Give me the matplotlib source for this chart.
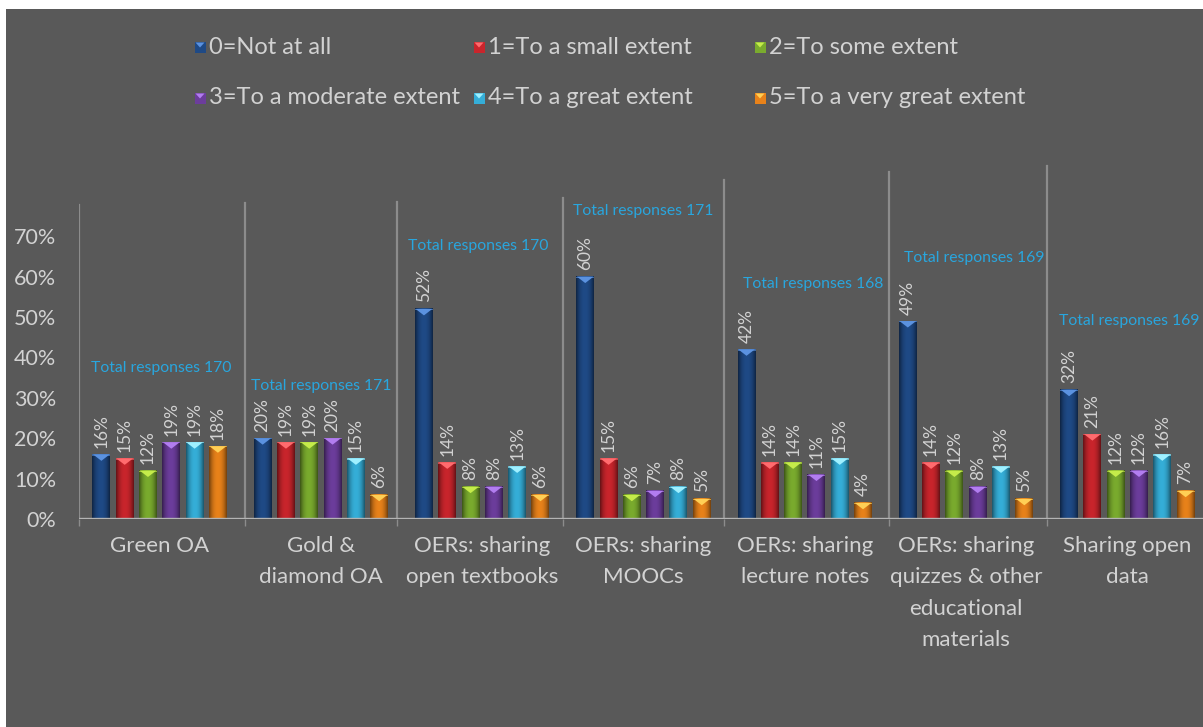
import numpy as np
import matplotlib.pyplot as plt
from matplotlib.patches import Rectangle, Polygon
from matplotlib.colors import to_rgb

plt.rcParams['font.family'] = ['Lato', 'DejaVu Sans']

categories = ['Green OA', 'Gold &\ndiamond OA', 'OERs: sharing\nopen textbooks',
              'OERs: sharing\nMOOCs', 'OERs: sharing\nlecture notes',
              'OERs: sharing\nquizzes & other\neducational\nmaterials',
              'Sharing open\ndata']
series = ['0=Not at all', '1=To a small extent', '2=To some extent',
          '3=To a moderate extent', '4=To a great extent', '5=To a very great extent']

not_at_all = [16, 20, 52, 60, 42, 49, 32]
small_extent = [15, 19, 14, 15, 14, 14, 21]
some_extent = [12, 19, 8, 6, 14, 12, 12]
moderate_extent = [19, 20, 8, 7, 11, 8, 12]
great_extent = [19, 15, 13, 8, 15, 13, 16]
very_great_extent = [18, 6, 6, 5, 4, 5, 7]
total_responses = [170, 171, 170, 171, 168, 169, 169]

values = [not_at_all, small_extent, some_extent, moderate_extent, great_extent, very_great_extent]

# where the "Total responses" notes sit (height in %, shift in category units)
note_y = [37.4, 32.9, 67.6, 76.2, 58.2, 64.6, 49.0]
note_dx = [0.01, 0.0, -0.025, 0.0, 0.05, 0.05, 0.01]

colors = ['#1f4a86', '#c9252c', '#7aab2e', '#6c3d9c', '#35aed8', '#e8821a']
tips = ['#5b92e0', '#ff6b6e', '#c5ec4a', '#b27df0', '#9ff0ff', '#ffcf55']

bg = '#595959'
txt = '#d2d2d2'
note_col = '#29a6de'

fig = plt.figure(figsize=(12.03, 7.27), dpi=100)
fig.patch.set_facecolor('white')
fig.patches.append(Rectangle((6 / 1203, 0), 1, (727 - 9) / 727, transform=fig.transFigure,
                             facecolor=bg, edgecolor='none', zorder=-5))

ax = fig.add_axes([79 / 1203, (727 - 519) / 727, (1208 - 79) / 1203, 363.6 / 727])
ax.set_zorder(2)
ax.set_facecolor('none')
ax.set_xlim(-0.5, 6.5)
ax.set_ylim(0, 90)
for s in ax.spines.values():
    s.set_visible(False)

# category separators (perspective makes the right ones reach higher)
sep_x = [-0.5, 0.53, 1.47, 2.5, 3.5, 4.52, 5.5]
sep_tops = [77.7, 78.2, 78.5, 79.5, 83.9, 85.9, 87.4]
for sx, t in zip(sep_x, sep_tops):
    ax.plot([sx, sx], [0, t], color='#8c8c8c', lw=1.6, zorder=1)
ax.axhline(0, color='#b4b4b4', lw=2.4, zorder=4)

slot = 0.1445
bw = 0.1116
x = np.arange(len(categories))
shade = 1 - 0.5 * np.abs(np.linspace(-1, 1, 40)) ** 2.2

for k, vals in enumerate(values):
    base = np.array(to_rgb(colors[k]))
    grad = np.clip(shade[None, :, None] * base[None, None, :], 0, 1)
    for i, v in enumerate(vals):
        xc = x[i] + (k - 2.5) * slot
        x0, x1 = xc - bw / 2, xc + bw / 2
        ax.imshow(grad, extent=(x0, x1, 0, v), aspect='auto', zorder=2, interpolation='bilinear')
        ax.add_patch(Polygon([(x0 + 0.004, v), (x1 - 0.004, v), (xc, v - 1.6)],
                             closed=True, facecolor=tips[k], edgecolor='none', zorder=3))
        ax.add_patch(Rectangle((x0, v - 0.3), bw, 0.3, facecolor=tips[k], alpha=0.6,
                               edgecolor='none', zorder=3))
        ax.text(xc, v + 1.6, f'{v}%', rotation=90, ha='center', va='bottom',
                color=txt, fontsize=12.5, zorder=5)

for i, n in enumerate(total_responses):
    ax.text(x[i] + note_dx[i], note_y[i], f'Total responses {n}', ha='center', va='center',
            color=note_col, fontsize=11.3, zorder=5)

ax.set_yticks(np.arange(0, 71, 10))
ax.set_yticklabels([f'{t}%' for t in range(0, 71, 10)], color=txt, fontsize=15.5)
ax.tick_params(axis='y', length=0, pad=16.5)
ax.set_xticks(x)
ax.set_xticklabels(categories, color=txt, fontsize=16, linespacing=1.72, va='top')
ax.tick_params(axis='x', length=0, pad=12)
ax.set_xticks(np.array(sep_x), minor=True)
ax.tick_params(axis='x', which='minor', length=5, color='#8c8c8c', width=1)

# legend in two rows
leg_pos = [(200, 47), (479, 47), (760, 47), (200, 98), (479, 98), (760, 98)]
for k, (px, py) in enumerate(leg_pos):
    fx, fy = px / 1203, 1 - py / 727
    hw, hh = 5.5 / 1203, 5.5 / 727
    fig.patches.append(Rectangle((fx - hw, fy - hh), 2 * hw, 2 * hh,
                                 transform=fig.transFigure, facecolor=colors[k],
                                 edgecolor='none', zorder=3))
    fig.patches.append(Polygon([(fx - 4.5 / 1203, fy + 4.5 / 727), (fx + 4.5 / 1203, fy + 4.5 / 727),
                                (fx, fy - 0.5 / 727)], closed=True, transform=fig.transFigure,
                               facecolor=tips[k], edgecolor='none', zorder=4))
    fig.text(fx + 9 / 1203, fy, series[k], color=txt, fontsize=17, ha='left', va='center')

fig.savefig('out.png', dpi=100)
